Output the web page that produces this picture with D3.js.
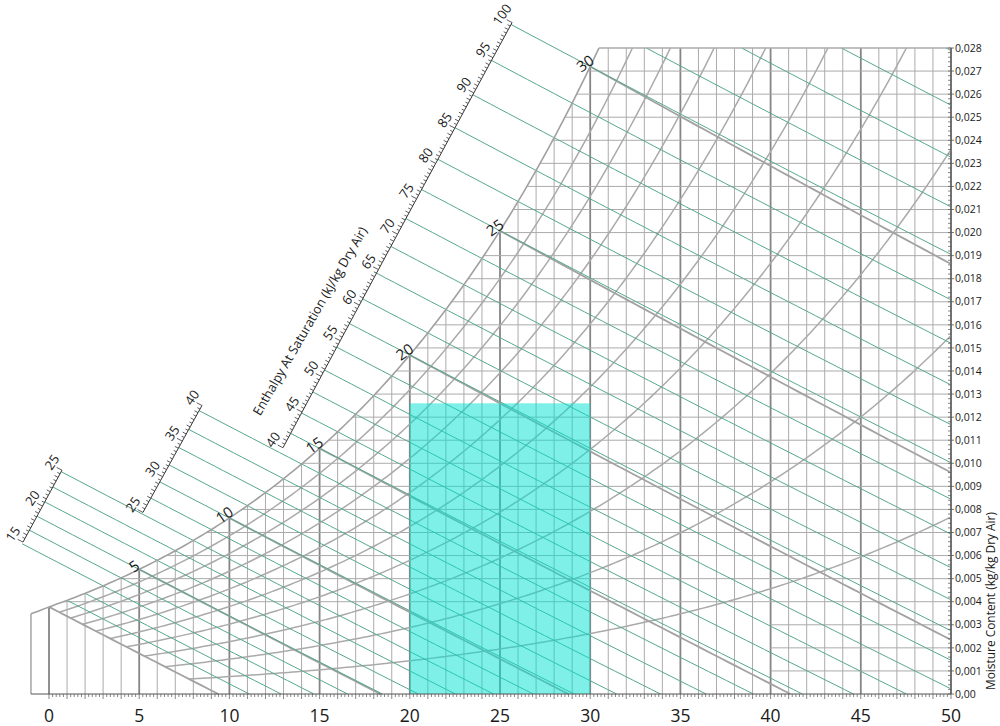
<!DOCTYPE html>
<html><head><meta charset="utf-8">
<script src="https://cdn.jsdelivr.net/npm/d3@7"></script>
<style>
body{margin:0;background:#fff}
svg{display:block}
text{font-family:"Open Sans",sans-serif;fill:#1a1a1a}
</style>
</head><body>
<svg id="chart" width="1000" height="726"></svg>
<script>
// ---------------- data ----------------
const dryBulbDomain = [-1, 50];
const moistureDomain = [0, 0.028];
const dryBulbTicks = [0, 5, 10, 15, 20, 25, 30, 35, 40, 45, 50];
const moistureTicks = [0, 0.001, 0.002, 0.003, 0.004, 0.005, 0.006, 0.007, 0.008, 0.009, 0.010,
  0.011, 0.012, 0.013, 0.014, 0.015, 0.016, 0.017, 0.018, 0.019, 0.020,
  0.021, 0.022, 0.023, 0.024, 0.025, 0.026, 0.027, 0.028];
const relHumidity = [0.1, 0.2, 0.3, 0.4, 0.5, 0.6, 0.7, 0.8, 0.9];
const wetBulbLines = [0, 5, 10, 15, 20, 25, 30];
const wetBulbLabels = [5, 10, 15, 20, 25, 30];
// enthalpy (kJ/kg) of the green lines
const enthalpyLines = [11.17, 12.94, 14.77, 16.65, 18.59, 20.59, 22.66, 24.79, 27.00, 29.28,
  31.65, 34.10, 36.64, 39.28, 42.01, 44.86, 47.81, 50.88, 54.09, 57.41, 60.88, 64.50,
  68.27, 72.20, 76.30, 80.58, 85.05, 89.73, 94.61, 99.72, 105.06, 110.65, 116.50, 122.63];
// enthalpy scales: enthalpy range and the dry-bulb temperature where each scale end sits
const scaleLo = [15, 25, 40];
const scaleHi = [25, 40, 100];
const scaleTempLo = [-1.44, 5.21, 12.97];
const scaleTempHi = [0.72, 8.48, 25.67];
const scaleLabels = [[15, 20, 25], [25, 30, 35, 40], [40, 45, 50, 55, 60, 65, 70, 75, 80, 85, 90, 95, 100]];
// highlighted comfort zone
const zoneTemp = [20, 30];
const zoneMoisture = [0, 0.0126];

// ---------------- psychrometrics ----------------
const P = 101.325;
function psat(T){ return T >= 0 ? 0.61121*Math.exp((18.678 - T/234.5)*(T/(257.14+T)))
                                 : 0.61115*Math.exp((23.036 - T/333.7)*(T/(279.82+T))); }
function wsat(T){ const p = psat(T); return 0.622*p/(P-p); }
function wRH(T, phi){ const p = phi*psat(T); return 0.622*p/(P-p); }
function wH(T, h){ return (h - 1.006*T)/(2501 + 1.86*T); }
function wWB(T, tw){ return ((2501 - 2.326*tw)*wsat(tw) - 1.006*(T - tw))/(2501 + 1.86*T - 4.186*tw); }
function solve(f, a, b){ let fa = f(a); for(let i=0;i<60;i++){ const m=(a+b)/2, fm=f(m); if((fm<0)===(fa<0)){a=m;fa=fm;} else b=m; } return (a+b)/2; }
function sample(t0, t1, f, step){ const n = Math.max(2, Math.ceil((t1-t0)/(step||0.2))); const pts=[]; for(let i=0;i<=n;i++){ const t=t0+(t1-t0)*i/n; pts.push([t, f(t)]); } return pts; }
const Tsat = w => solve(T => wsat(T) - w, -1, 40);

// ---------------- scales ----------------
const svg = d3.select("#chart");
const x = d3.scaleLinear().domain([0, 50]).range([49, 951]);
const y = d3.scaleLinear().domain(moistureDomain).range([694, 48]);
const line = d3.line().x(d => x(d[0])).y(d => y(d[1]));
const Tmin = dryBulbDomain[0], Tmax = dryBulbDomain[1], Wmax = moistureDomain[1];
const Ttop = Tsat(Wmax);

const gGrid = svg.append("g");
// vertical grid (dry bulb)
const vT = d3.range(Tmin, Tmax + 1);
gGrid.selectAll("line.v").data(vT).join("line")
  .attr("x1", d => x(d)).attr("x2", d => x(d))
  .attr("y1", y(0)).attr("y2", d => y(d <= Ttop ? wsat(d) : Wmax))
  .attr("stroke", d => (d % 5 === 0) ? "#858585" : "#ababab")
  .attr("stroke-width", d => (d % 5 === 0) ? 1.8 : 1);
// horizontal grid (moisture)
gGrid.selectAll("line.h").data(moistureTicks.filter(w => w > 0)).join("line")
  .attr("x1", w => x(Math.max(Tmin, Tsat(w)))).attr("x2", x(Tmax))
  .attr("y1", w => y(w)).attr("y2", w => y(w))
  .attr("stroke", "#ababab").attr("stroke-width", 1);

// relative humidity curves, starting at the 0 °C wet-bulb line
const gRH = svg.append("g").attr("fill", "none").attr("stroke", "#aaaaaa").attr("stroke-width", 1.5);
relHumidity.forEach(phi => {
  const t0 = solve(T => wRH(T, phi) - wWB(T, 0), 0, 12);
  let t1 = Tmax;
  if (wRH(Tmax, phi) > Wmax) t1 = solve(T => wRH(T, phi) - Wmax, t0, Tmax);
  gRH.append("path").attr("d", line(sample(t0, t1, T => wRH(T, phi), 0.25)));
});

// wet-bulb lines
const gWB = svg.append("g").attr("fill", "none").attr("stroke", "#a2a2a2").attr("stroke-width", 1.8);
wetBulbLines.forEach(tw => {
  let t1 = Tmax;
  if (wWB(Tmax, tw) < 0) t1 = solve(T => wWB(T, tw), tw, 80);
  gWB.append("path").attr("d", line(sample(tw, t1, T => wWB(T, tw), 0.5)));
});

// enthalpy scales geometry
function scaleIndex(h){ if (h <= 25) return 0; if (h <= 40.001) return 1; if (h <= 100.5) return 2; return -1; }
function scaleTemp(i, h){ return scaleTempLo[i] + (h - scaleLo[i])/(scaleHi[i]-scaleLo[i])*(scaleTempHi[i]-scaleTempLo[i]); }

// enthalpy lines
const gH = svg.append("g").attr("fill", "none").attr("stroke", "#55a88e").attr("stroke-width", 1);
enthalpyLines.forEach(h => {
  const i = scaleIndex(h);
  let t0;
  if (h < scaleLo[0] - 0.5) t0 = solve(T => wsat(T) - wH(T, h), -1, 10);
  else if (i >= 0) t0 = scaleTemp(i, h);
  else t0 = solve(T => wH(T, h) - Wmax, 0, 60);
  let t1 = Math.min(Tmax, h/1.006);
  gH.append("path").attr("d", line(sample(t0, t1, T => wH(T, h), 0.5)));
});

// saturation curve and left border
const gSat = svg.append("g").attr("fill", "none").attr("stroke", "#a0a0a0").attr("stroke-width", 1.6);
gSat.append("path").attr("d", line(sample(Tmin, Ttop, wsat, 0.2)));
gSat.append("path").attr("d", line([[Tmin, 0], [Tmin, wsat(Tmin)]])).attr("stroke-width", 1);
// top border
gSat.append("path").attr("d", line([[Ttop, Wmax], [Tmax, Wmax]])).attr("stroke", "#ababab").attr("stroke-width", 1);

// highlighted zone
svg.append("rect")
  .attr("x", x(zoneTemp[0])).attr("width", x(zoneTemp[1]) - x(zoneTemp[0]))
  .attr("y", y(zoneMoisture[1])).attr("height", y(zoneMoisture[0]) - y(zoneMoisture[1]))
  .attr("fill", "rgb(0,226,210)").attr("fill-opacity", 0.5);

// enthalpy scales (arcs with ticks and labels)
const gScale = svg.append("g");
scaleLo.forEach((lo, i) => {
  const hi = scaleHi[i];
  const pt = h => { const T = scaleTemp(i, h); return [x(T), y(wH(T, h))]; };
  gScale.append("path").attr("d", d3.line()(d3.range(lo, hi + 0.01, 0.5).map(pt)))
    .attr("fill", "none").attr("stroke", "#333").attr("stroke-width", 1);
  d3.range(lo, hi + 0.01, 0.5).forEach(h => {
    const p = pt(h);
    const len = (h % 5 === 0) ? 6 : (h % 1 === 0 ? 4 : 3);
    gScale.append("line").attr("x1", p[0]).attr("y1", p[1]).attr("x2", p[0] - len*0.89).attr("y2", p[1] - len*0.46)
      .attr("stroke", "#333").attr("stroke-width", 0.8);
  });
  scaleLabels[i].forEach(h => {
    const p = pt(h);
    gScale.append("text").attr("transform", `translate(${p[0]-10},${p[1]-8}) rotate(-55)`)
      .attr("text-anchor", "middle").attr("dy", "0.35em").attr("font-size", 13).text(h);
  });
});
svg.append("text").attr("transform", "translate(310,321) rotate(-60)")
  .attr("text-anchor", "middle").attr("dy", "0.35em").attr("font-size", 13)
  .attr("textLength", 215).attr("lengthAdjust", "spacingAndGlyphs")
  .text("Enthalpy At Saturation (kJ/kg Dry Air)");

// saturation temperature labels
svg.append("g").selectAll("text").data(wetBulbLabels).join("text")
  .attr("transform", d => `translate(${x(d)-5},${y(wsat(d))-3}) rotate(-35)`)
  .attr("text-anchor", "middle").attr("dy", "0.35em").attr("font-size", 15).text(d => d);

// bottom axis
const gB = svg.append("g");
gB.append("line").attr("x1", x(Tmin)).attr("x2", x(Tmax)).attr("y1", y(0)).attr("y2", y(0)).attr("stroke", "#555").attr("stroke-width", 1);
gB.selectAll("line.t").data(d3.range(0, 50.01, 0.2)).join("line")
  .attr("x1", d => x(d)).attr("x2", d => x(d)).attr("y1", y(0))
  .attr("y2", d => y(0) + (Math.abs(d - Math.round(d)) < 1e-6 ? 5 : 3))
  .attr("stroke", "#555").attr("stroke-width", 0.7);
gB.selectAll("text").data(dryBulbTicks).join("text")
  .attr("x", d => x(d)).attr("y", 722).attr("text-anchor", "middle").attr("font-size", 17.5).text(d => d);

// right axis
const gR = svg.append("g");
gR.append("line").attr("x1", x(Tmax)).attr("x2", x(Tmax)).attr("y1", y(0)).attr("y2", y(Wmax)).attr("stroke", "#555").attr("stroke-width", 1);
gR.selectAll("line.m").data(d3.range(0, 0.02801, 0.0002)).join("line")
  .attr("x1", x(Tmax) - 3).attr("x2", x(Tmax)).attr("y1", d => y(d)).attr("y2", d => y(d))
  .attr("stroke", "#555").attr("stroke-width", 0.7);
gR.selectAll("line.M").data(moistureTicks).join("line")
  .attr("x1", x(Tmax)).attr("x2", x(Tmax) + 3).attr("y1", d => y(d)).attr("y2", d => y(d))
  .attr("stroke", "#555").attr("stroke-width", 0.8);
const fmt = d => d === 0 ? "0,00" : d3.format(".3f")(d).replace(".", ",");
gR.selectAll("text").data(moistureTicks).join("text")
  .attr("x", x(Tmax) + 4).attr("y", d => y(d)).attr("dy", "0.35em").attr("font-size", 10.5).text(fmt);
svg.append("text").attr("transform", "translate(990,601) rotate(-90)")
  .attr("text-anchor", "middle").attr("dy", "0.35em").attr("font-size", 13)
  .attr("textLength", 178).attr("lengthAdjust", "spacingAndGlyphs")
  .text("Moisture Content (kg/kg Dry Air)");
</script>
</body></html>
